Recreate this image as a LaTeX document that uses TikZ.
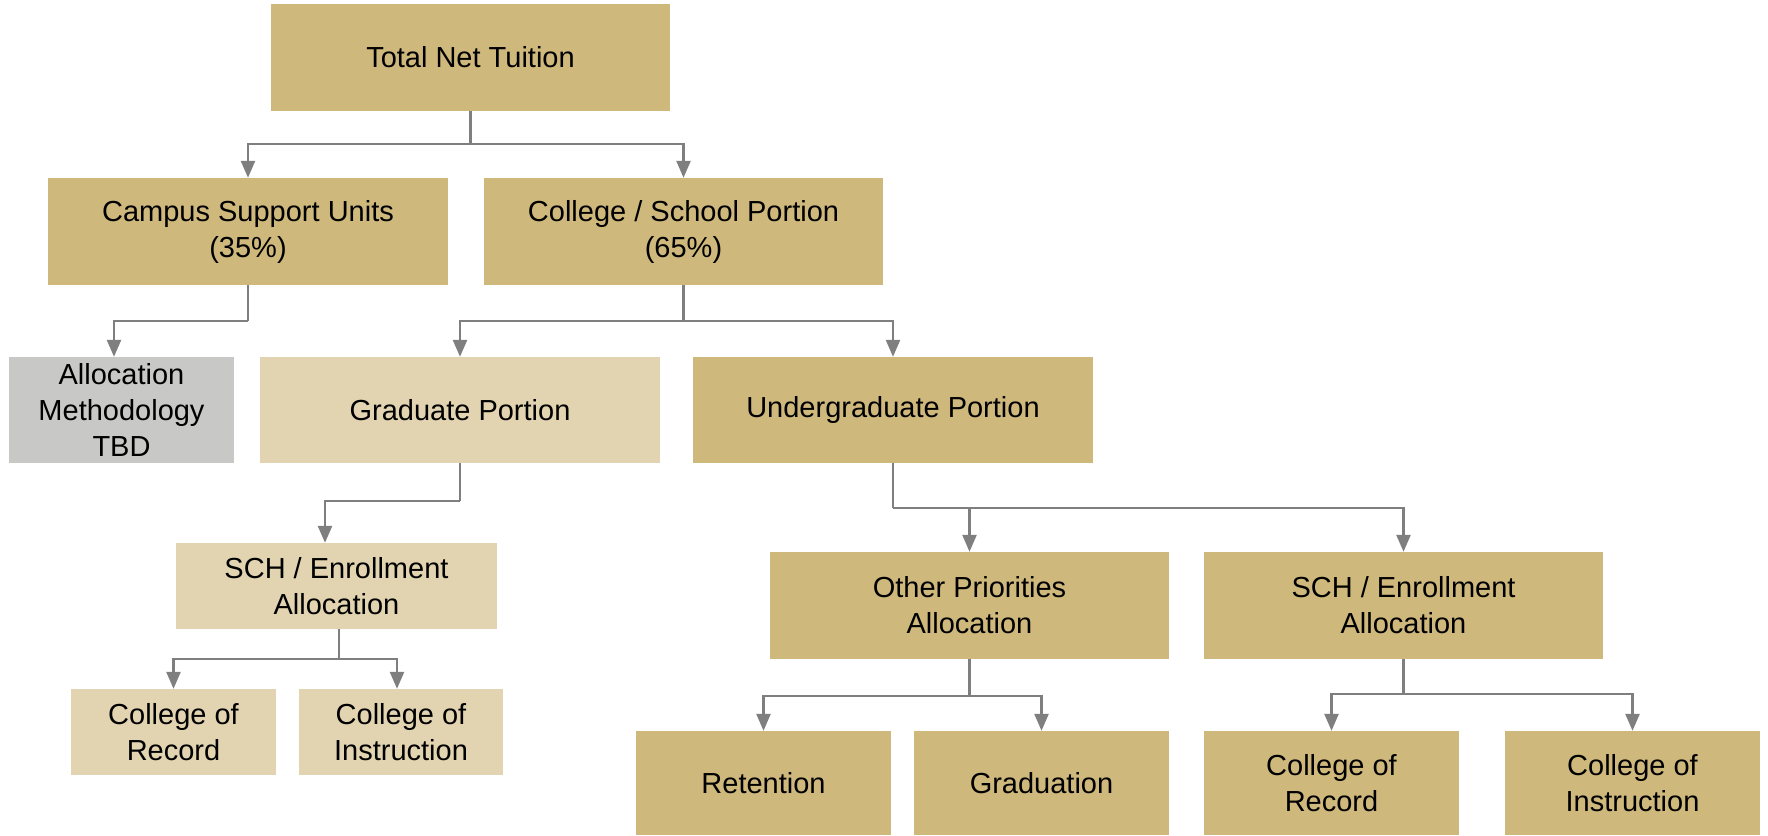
\documentclass[tikz,border=0pt]{standalone}
\usepackage{fontspec}
\setmainfont{Liberation Sans}
\usetikzlibrary{arrows.meta}
\definecolor{gold}{HTML}{CFB87C}
\definecolor{lightgold}{HTML}{E2D4B0}
\definecolor{boxgray}{HTML}{C8C9C7}
\definecolor{conngray}{HTML}{7F7F7F}
\tikzset{
  box/.style={rectangle, inner sep=0pt, align=center, font=\fontsize{29}{36}\selectfont, text=black},
  dark/.style={box, fill=gold},
  light/.style={box, fill=lightgold},
  grey/.style={box, fill=boxgray},
  conn/.style={draw=conngray, line width=2.5pt},
  arr/.style={conn, -{Triangle[length=17pt,width=14pt]}, shorten >=0pt}
}
\begin{document}
\begin{tikzpicture}[x=1pt,y=-1pt]
\useasboundingbox (0,0) rectangle (1768,835);
% nodes
\node[dark, minimum width=399pt, minimum height=107pt] (tnt) at (470.5,57.5) {Total Net Tuition};
\node[dark, minimum width=400pt, minimum height=107pt] (csu) at (248,231.5) {Campus Support Units\\(35\%)};
\node[dark, minimum width=399pt, minimum height=107pt] (csp) at (683.5,231.5) {College / School Portion\\(65\%)};
\node[grey, minimum width=225pt, minimum height=106pt] (tbd) at (121.5,410) {Allocation\\Methodology\\TBD};
\node[light, minimum width=400pt, minimum height=106pt] (grad) at (460,410) {Graduate Portion};
\node[dark, minimum width=400pt, minimum height=106pt] (ugrad) at (893,410) {Undergraduate Portion};
\node[light, minimum width=321pt, minimum height=86pt] (gsch) at (336.5,586) {SCH / Enrollment\\Allocation};
\node[light, minimum width=205pt, minimum height=86pt] (gcor) at (173.5,732) {College of\\Record};
\node[light, minimum width=204pt, minimum height=86pt] (gcoi) at (401,732) {College of\\Instruction};
\node[dark, minimum width=399pt, minimum height=107pt] (oth) at (969.5,605.5) {Other Priorities\\Allocation};
\node[dark, minimum width=399pt, minimum height=107pt] (usch) at (1403.5,605.5) {SCH / Enrollment\\Allocation};
\node[dark, minimum width=255pt, minimum height=104pt] (ret) at (763.5,783) {Retention};
\node[dark, minimum width=255pt, minimum height=104pt] (grd) at (1041.5,783) {Graduation};
\node[dark, minimum width=255pt, minimum height=104pt] (ucor) at (1331.5,783) {College of\\Record};
\node[dark, minimum width=255pt, minimum height=104pt] (ucoi) at (1632.5,783) {College of\\Instruction};
% junctions
\coordinate (j1) at (470.5,144);
\coordinate (j2) at (248,321);
\coordinate (j3) at (683.5,321);
\coordinate (j4) at (460,501);
\coordinate (j5) at (339,659);
\coordinate (j6) at (893,508);
\coordinate (j7) at (969.5,696);
\coordinate (j8) at (1403.5,694);
% connectors
\draw[conn] (tnt.south) -- (j1);
\draw[arr] (j1) -| (csu.north);
\draw[arr] (j1) -| (csp.north);
\draw[conn] (csu.south) -- (j2);
\draw[arr] (j2) -| ([xshift=-7.5pt]tbd.north);
\draw[conn] (csp.south) -- (j3);
\draw[arr] (j3) -| (grad.north);
\draw[arr] (j3) -| (ugrad.north);
\draw[conn] (grad.south) -- (j4);
\draw[arr] (j4) -| ([xshift=-11.5pt]gsch.north);
\draw[conn] ([xshift=2.5pt]gsch.south) -- (j5);
\draw[arr] (j5) -| (gcor.north);
\draw[arr] (j5) -| ([xshift=-4pt]gcoi.north);
\draw[conn] (ugrad.south) -- (j6);
\draw[arr] (j6) -| (oth.north);
\draw[arr] (j6) -| (usch.north);
\draw[conn] (oth.south) -- (j7);
\draw[arr] (j7) -| (ret.north);
\draw[arr] (j7) -| (grd.north);
\draw[conn] (usch.south) -- (j8);
\draw[arr] (j8) -| (ucor.north);
\draw[arr] (j8) -| (ucoi.north);
\end{tikzpicture}
\end{document}
